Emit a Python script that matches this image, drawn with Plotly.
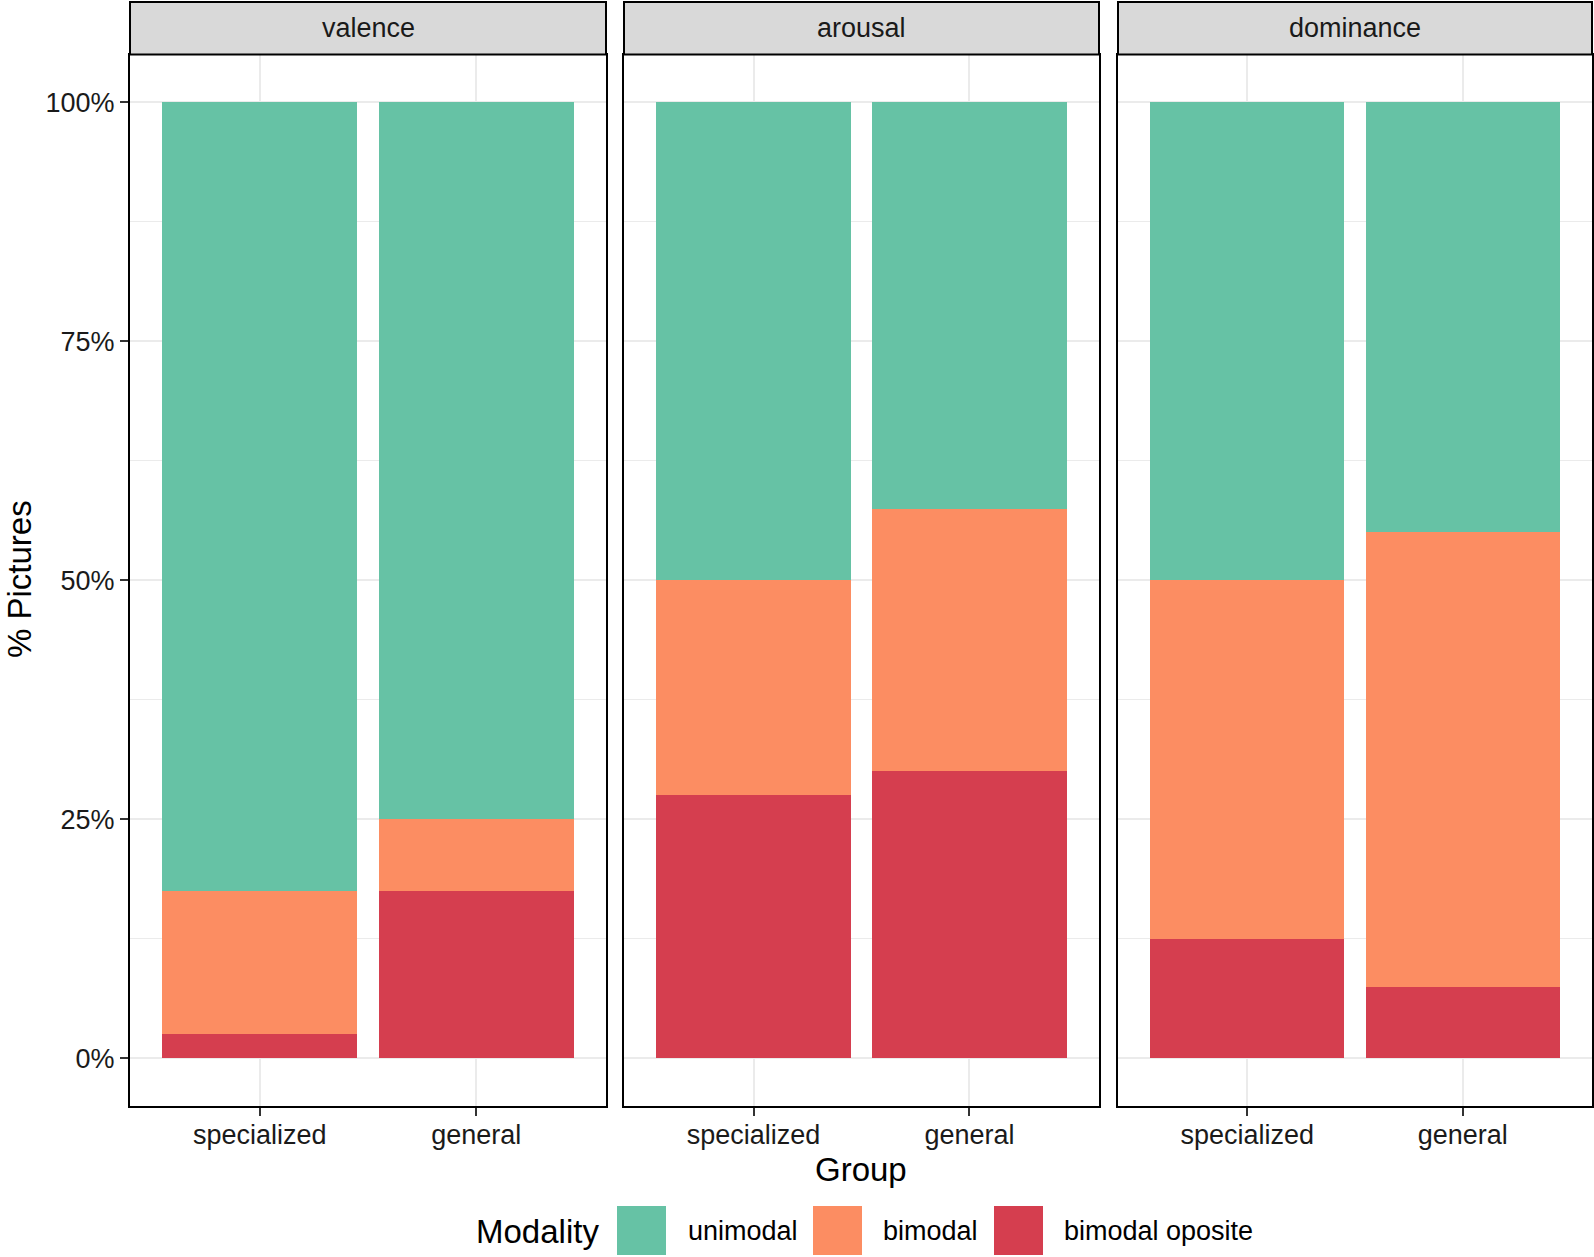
import plotly.graph_objects as go

# ---------------- data ----------------
facets = ["valence", "arousal", "dominance"]
groups = ["specialized", "general"]
modalities = ["unimodal", "bimodal", "bimodal oposite"]
# percentages of pictures per facet: [specialized, general]
unimodal = {"valence": [82.5, 75.0], "arousal": [50.0, 42.5], "dominance": [50.0, 45.0]}
bimodal = {"valence": [15.0, 7.5], "arousal": [22.5, 27.5], "dominance": [37.5, 47.5]}
bimodal_oposite = {"valence": [2.5, 17.5], "arousal": [27.5, 30.0], "dominance": [12.5, 7.5]}
y_ticks = [0, 25, 50, 75, 100]
y_ticklabels = ["0%", "25%", "50%", "75%", "100%"]

colors = {"unimodal": "#66C2A5", "bimodal": "#FC8D62", "bimodal oposite": "#D53E4F"}
series = {"unimodal": unimodal, "bimodal": bimodal, "bimodal oposite": bimodal_oposite}

W, H = 1594, 1257
FONT = "Liberation Sans, Arial, sans-serif"

# panel pixel extents (screen coordinates)
panels_px = [(130, 606), (624, 1099), (1118, 1592)]
plot_top, plot_bot = 54.5, 1106
strip_top = 2

def px_x(p):
    return p / W

def px_y(p):
    return 1 - p / H

fig = go.Figure()

stack_order = ["bimodal oposite", "bimodal", "unimodal"]
for i, facet in enumerate(facets):
    ax = "" if i == 0 else str(i + 1)
    for m in stack_order:
        fig.add_trace(go.Bar(
            x=groups, y=series[m][facet], name=m,
            marker=dict(color=colors[m], line=dict(width=0)),
            width=0.9, showlegend=False,
            xaxis="x" + ax, yaxis="y" + ax,
        ))

layout = dict(
    width=W, height=H,
    margin=dict(l=0, r=0, t=0, b=0),
    paper_bgcolor="white", plot_bgcolor="white",
    barmode="stack",
    font=dict(family=FONT, color="black", size=27),
)

for i, facet in enumerate(facets):
    ax = "" if i == 0 else str(i + 1)
    x0, x1 = panels_px[i]
    layout["xaxis" + ax] = dict(
        domain=[px_x(x0), px_x(x1)],
        anchor="y" + ax,
        type="category",
        categoryorder="array", categoryarray=groups,
        range=[-0.6, 1.6],
        showgrid=True, gridcolor="#EBEBEB", gridwidth=2,
        showline=True, mirror=True, linecolor="black", linewidth=2,
        ticks="outside", ticklen=8, tickwidth=2, tickcolor="#333333",
        ticklabelstandoff=-4,
        tickfont=dict(size=27, color="#1a1a1a", family=FONT),
        zeroline=False, fixedrange=True,
    )
    layout["yaxis" + ax] = dict(
        domain=[px_y(plot_bot), px_y(plot_top)],
        anchor="x" + ax,
        range=[-5, 105],
        tickvals=y_ticks, ticktext=y_ticklabels,
        showticklabels=(i == 0),
        showgrid=True, gridcolor="#EBEBEB", gridwidth=2,
        minor=dict(dtick=12.5, tick0=0, showgrid=True, gridcolor="#EBEBEB", gridwidth=1),
        showline=True, mirror=True, linecolor="black", linewidth=2,
        ticks="outside" if i == 0 else "", ticklen=8, tickwidth=2, tickcolor="#333333",
        tickfont=dict(size=27, color="#1a1a1a", family=FONT),
        zeroline=False, fixedrange=True,
    )

shapes = []
annotations = []
for i, facet in enumerate(facets):
    x0, x1 = panels_px[i]
    shapes.append(dict(type="rect", xref="paper", yref="paper",
                       x0=px_x(x0), x1=px_x(x1), y0=px_y(plot_top), y1=px_y(strip_top),
                       fillcolor="#D9D9D9", line=dict(color="black", width=2), layer="above"))
    annotations.append(dict(text=facet, xref="paper", yref="paper",
                            x=px_x((x0 + x1) / 2), y=px_y((strip_top + plot_top) / 2),
                            xanchor="center", yanchor="middle", showarrow=False,
                            font=dict(size=27, color="#1a1a1a", family=FONT)))

# axis titles
annotations.append(dict(text="Group", xref="paper", yref="paper",
                        x=px_x((panels_px[0][0] + panels_px[2][1]) / 2), y=px_y(1169),
                        xanchor="center", yanchor="middle", showarrow=False,
                        font=dict(size=33, family=FONT)))
annotations.append(dict(text="% Pictures", xref="paper", yref="paper",
                        x=px_x(19), y=px_y(579), textangle=-90,
                        xanchor="center", yanchor="middle", showarrow=False,
                        font=dict(size=33, family=FONT)))

# legend (manual)
annotations.append(dict(text="Modality", xref="paper", yref="paper",
                        x=px_x(474), y=px_y(1231), xanchor="left", yanchor="middle",
                        showarrow=False, font=dict(size=33, family=FONT)))
legend_keys = [(617, 686), (813, 881), (994, 1062)]
for m, (kx, lx) in zip(modalities, legend_keys):
    shapes.append(dict(type="rect", xref="paper", yref="paper",
                       x0=px_x(kx), x1=px_x(kx + 49), y0=px_y(1255), y1=px_y(1206),
                       fillcolor=colors[m], line=dict(width=0)))
    annotations.append(dict(text=m, xref="paper", yref="paper",
                            x=px_x(lx), y=px_y(1231), xanchor="left", yanchor="middle",
                            showarrow=False, font=dict(size=27, family=FONT)))

layout["shapes"] = shapes
layout["annotations"] = annotations
fig.update_layout(**layout)

fig.write_html(
    "out.html",
    config={"displayModeBar": False, "staticPlot": True},
    post_script="document.body.style.margin='0px';document.body.style.overflow='hidden';",
)
